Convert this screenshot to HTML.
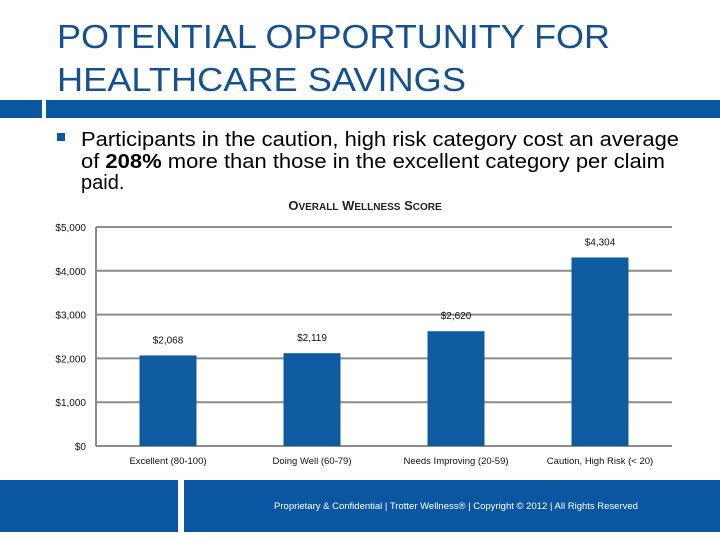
<!DOCTYPE html>
<html><head><meta charset="utf-8"><style>
html,body{margin:0;padding:0;background:#fff;}
svg{display:block;font-family:"Liberation Sans",sans-serif;}
</style></head><body>
<svg id="s" width="720" height="540" viewBox="0 0 720 540">
  <text x="57" y="48" font-size="33" fill="#15508f" textLength="553" lengthAdjust="spacingAndGlyphs">POTENTIAL OPPORTUNITY FOR</text>
  <text x="57" y="91" font-size="33" fill="#15508f" textLength="409" lengthAdjust="spacingAndGlyphs">HEALTHCARE SAVINGS</text>
  <rect x="0" y="100" width="42" height="18" fill="#0b56a0"/>
  <rect x="46" y="100" width="674" height="18" fill="#0b56a0"/>
  <rect x="57" y="133" width="8" height="8" fill="#0b56a0"/>
  <text font-size="20" fill="#000">
    <tspan x="81" y="146" textLength="598" lengthAdjust="spacingAndGlyphs">Participants in the caution, high risk category cost an average</tspan>
    <tspan x="81" y="168" textLength="584" lengthAdjust="spacingAndGlyphs">of <tspan font-weight="bold">208%</tspan> more than those in the excellent category per claim</tspan>
    <tspan x="81" y="189">paid.</tspan>
  </text>
  <text x="365" y="210" font-size="13" font-weight="bold" fill="#222" text-anchor="middle">O<tspan font-size="10">VERALL</tspan> W<tspan font-size="10">ELLNESS</tspan> S<tspan font-size="10">CORE</tspan></text>
  <g id="chart"></g>
  <rect x="0" y="480" width="178" height="52" fill="#0b56a0"/>
  <rect x="184" y="480" width="536" height="52" fill="#0b56a0"/>
  <text x="456" y="509" font-size="9.5" fill="#fff" text-anchor="middle">Proprietary &amp; Confidential | Trotter Wellness® | Copyright © 2012 | All Rights Reserved</text>
</svg>
<script>
const categories = ["Excellent (80-100)", "Doing Well (60-79)", "Needs Improving (20-59)", "Caution, High Risk (< 20)"];
const values = [2068, 2119, 2620, 4304];
const valueLabels = ["$2,068", "$2,119", "$2,620", "$4,304"];
const ticks = [0, 1000, 2000, 3000, 4000, 5000];
const tickLabels = ["$0", "$1,000", "$2,000", "$3,000", "$4,000", "$5,000"];

const NS = "http://www.w3.org/2000/svg";
const g = document.getElementById("chart");
const x0 = 96, x1 = 672, yTop = 227, yBot = 446, yMax = 5000;
const y = v => yBot - (v / yMax) * (yBot - yTop);
const band = (x1 - x0) / categories.length;
const xc = i => x0 + band * (i + 0.5);
const bw = 57;
function mk(tag, attrs) { const e = document.createElementNS(NS, tag); for (const k in attrs) e.setAttribute(k, attrs[k]); g.appendChild(e); return e; }

ticks.forEach((t, i) => {
  const l = mk("line", {x1: x0, x2: x1, y1: y(t), y2: y(t), stroke: "#8c8c8c", "stroke-width": 2});
  
  
  const tx = mk("text", {x: 86, y: y(t) + 4, "font-size": 10, "text-anchor": "end", fill: "#111"});
  tx.textContent = tickLabels[i];
  
  
});
const ax = mk("line", {x1: x0, x2: x0, y1: yTop, y2: yBot, stroke: "#8c8c8c", "stroke-width": 2});



values.forEach((v, i) => {
  const r = mk("rect", {x: xc(i) - bw / 2, y: y(v), width: bw, height: yBot - y(v), fill: "#0f5ba1"});
  
  
  const lb = mk("text", {x: xc(i), y: y(v) - 12, "font-size": 10, "text-anchor": "middle", fill: "#111"});
  lb.textContent = valueLabels[i];
  
  
  const cl = mk("text", {x: xc(i), y: 464, "font-size": 9.5, "text-anchor": "middle", fill: "#111"});
  cl.textContent = categories[i];
  
  
});
</script>
</body></html>
